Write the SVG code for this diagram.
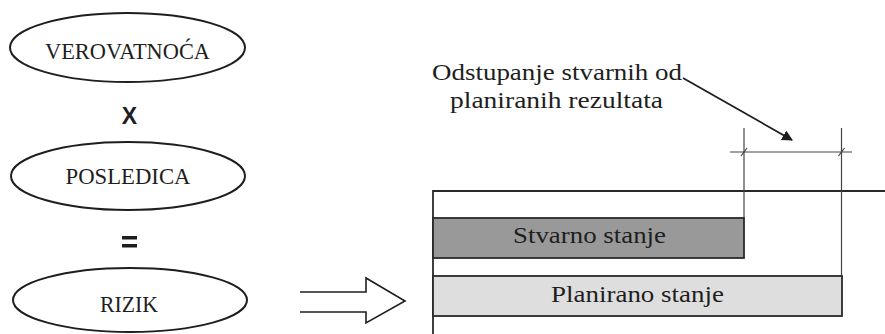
<svg xmlns="http://www.w3.org/2000/svg" width="885" height="334" viewBox="0 0 885 334">
  <style>
    .oval { fill: #fff; stroke: #1e1e1e; stroke-width: 2; }
    .lbl { font-family: 'Liberation Serif', 'Times New Roman', serif; fill: #1e1e1e; }
    .op { font-family: 'Liberation Sans', Arial, sans-serif; font-weight: bold; fill: #1e1e1e; }
    .thin { stroke: #444; stroke-width: 1.2; fill: none; }
    .bar { stroke: #2a2a2a; stroke-width: 1.8; }
  </style>
  <defs>
    <marker id="tri" viewBox="0 0 10 10" refX="9" refY="5" markerWidth="6" markerHeight="6" orient="auto" markerUnits="strokeWidth">
      <path d="M0,0 L10,5 L0,10 z" fill="#1e1e1e"/>
    </marker>
  </defs>
  <rect width="885" height="334" fill="#fff"/>

  <g id="verovatnoca">
    <ellipse class="oval" cx="127.5" cy="47.5" rx="117.5" ry="34.5"/>
    <text class="lbl" x="127.5" y="59" font-size="24" text-anchor="middle" textLength="165" lengthAdjust="spacingAndGlyphs">VEROVATNOĆA</text>
  </g>

  <g id="times">
    <text class="op" x="129.5" y="123.5" font-size="23" text-anchor="middle">X</text>
  </g>

  <g id="posledica">
    <ellipse class="oval" cx="128" cy="176" rx="117" ry="34"/>
    <text class="lbl" x="128" y="184" font-size="24" text-anchor="middle" textLength="125" lengthAdjust="spacingAndGlyphs">POSLEDICA</text>
  </g>

  <g id="equals">
    <rect x="122" y="236" width="15" height="3.5" fill="#1e1e1e"/>
    <rect x="122" y="244" width="15" height="3.5" fill="#1e1e1e"/>
  </g>

  <g id="rizik">
    <ellipse class="oval" cx="130" cy="300" rx="117" ry="32"/>
    <text class="lbl" x="129" y="312" font-size="24" text-anchor="middle" textLength="58" lengthAdjust="spacingAndGlyphs">RIZIK</text>
  </g>

  <g id="transition-arrow">
    <path d="M300,292 L366,292 L366,278 L405,301 L366,323 L366,312 L300,312" fill="#fff" stroke="#1e1e1e" stroke-width="1.6" stroke-linejoin="miter"/>
  </g>

  <g id="chart">
    <!-- frame -->
    <line class="bar" x1="433" y1="191" x2="885" y2="191"/>
    <line class="bar" x1="433" y1="190" x2="433" y2="334"/>
    <!-- dimension extension lines -->
    <line class="thin" x1="744" y1="128" x2="744" y2="218"/>
    <line class="thin" x1="841.5" y1="128" x2="841.5" y2="276"/>
    <!-- dimension line with ticks -->
    <line class="thin" x1="730" y1="152" x2="852" y2="152"/>
    <line class="thin" x1="741" y1="156" x2="747" y2="148"/>
    <line class="thin" x1="838.5" y1="156" x2="844.5" y2="148"/>
  </g>

  <g id="stvarno">
    <rect x="433" y="218" width="311" height="40" fill="#999" stroke="#2a2a2a" stroke-width="1.8"/>
    <text class="lbl" x="589.5" y="243" font-size="23" text-anchor="middle" textLength="153" lengthAdjust="spacingAndGlyphs">Stvarno stanje</text>
  </g>

  <g id="planirano">
    <rect x="433" y="276" width="409" height="40" fill="#dedede" stroke="#2a2a2a" stroke-width="1.8"/>
    <text class="lbl" x="637.5" y="302" font-size="23" text-anchor="middle" textLength="173" lengthAdjust="spacingAndGlyphs">Planirano stanje</text>
  </g>

  <g id="odstupanje">
    <text class="lbl" x="432" y="80" font-size="23" textLength="250" lengthAdjust="spacingAndGlyphs">Odstupanje stvarnih od</text>
    <text class="lbl" x="450" y="108" font-size="23" textLength="213" lengthAdjust="spacingAndGlyphs">planiranih rezultata</text>
  </g>

  <g id="connectors">
    <line x1="683" y1="78" x2="792" y2="140" stroke="#1e1e1e" stroke-width="1.8" marker-end="url(#tri)"/>
  </g>
</svg>
